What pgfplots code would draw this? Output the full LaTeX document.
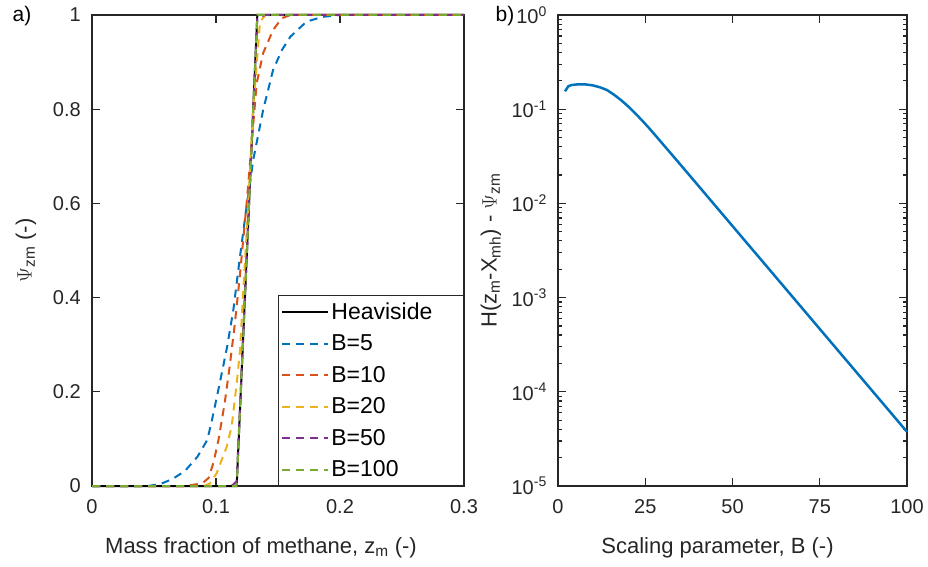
\documentclass[border=0pt]{standalone}
\usepackage{fontspec}
\setmainfont{Liberation Sans}
\usepackage{pgfplots}
\pgfplotsset{compat=1.18}
\definecolor{mblue}{rgb}{0,0.447,0.741}
\definecolor{morange}{rgb}{0.85,0.325,0.098}
\definecolor{myellow}{rgb}{0.929,0.694,0.125}
\definecolor{mpurple}{rgb}{0.494,0.184,0.556}
\definecolor{mgreen}{rgb}{0.466,0.674,0.188}
\definecolor{axgray}{rgb}{0.15,0.15,0.15}
\pgfplotsset{
  mystyle/.style={
    scale only axis,
    height=471pt,
    axis line style={line width=1.4pt, axgray},
    every tick/.style={line width=1.2pt, axgray},
    tick align=inside,
    major tick length=8pt,
    minor tick length=4pt,
    /pgf/number format/assume math mode=true,
    tick label style={font=\fontsize{20}{24}\selectfont, text=axgray},
    label style={font=\fontsize{22}{26}\selectfont, text=axgray},
    xticklabel style={anchor=base, yshift=-27pt, inner sep=0pt},
    yticklabel style={anchor=east, xshift=-11pt, inner sep=0pt},
    xlabel style={at={(axis description cs:0.5,0)}, anchor=center, yshift=-62pt},
    clip=false,
  }
}
\begin{document}
\begin{tikzpicture}[x=1pt,y=1pt]
\useasboundingbox (0,0) rectangle (928,566);
\begin{axis}[mystyle,
  at={(92pt,80pt)}, anchor=south west, width=372pt,
  xmin=0, xmax=0.3, ymin=0, ymax=1,
  xtick={0,0.1,0.2,0.3}, xticklabels={0,0.1,0.2,0.3},
  ytick={0,0.2,0.4,0.6,0.8,1}, yticklabels={0,0.2,0.4,0.6,0.8,1},
  xlabel={Mass fraction of methane, z\textsubscript{m} (-)},
  xlabel style={xshift=-17pt},
  ylabel={$\Psi$\textsubscript{zm} (-)},
  ylabel style={at={(axis description cs:0,0.5)}, anchor=center, yshift=66pt},
  legend style={at={(1,0)}, anchor=south east, draw=axgray, line width=1.2pt,
    font=\fontsize{23}{27}\selectfont, fill=white, inner xsep=3pt, inner ysep=5pt,
    row sep=10pt},
  legend cell align=left,
  legend image code/.code={\draw[#1] (0pt,0pt) -- (46pt,0pt);},
]
\addplot[black, line width=2pt] coordinates {(0,0) (0.11667,0) (0.13333,1) (0.3,1)};
\addlegendentry{Heaviside\rule{26pt}{0pt}}
\addplot[mblue, line width=2pt, dash pattern=on 8pt off 6pt] coordinates {
(0,0) (0.045,0) (0.055,0.004) (0.065,0.015) (0.075,0.032) (0.085,0.062) (0.093,0.098)
(0.0965,0.137) (0.103,0.218) (0.109,0.296) (0.114,0.374) (0.119,0.48) (0.125,0.6)
(0.130,0.692) (0.138,0.798) (0.146,0.883) (0.153,0.925) (0.160,0.954) (0.173,0.986)
(0.186,0.996) (0.2,1) (0.3,1)};
\addlegendentry{B=5}
\addplot[morange, line width=2pt, dash pattern=on 8pt off 6pt] coordinates {
(0,0) (0.075,0) (0.085,0.004) (0.09,0.008) (0.094,0.017) (0.098,0.05) (0.102,0.098)
(0.107,0.176) (0.111,0.253) (0.115,0.34) (0.119,0.44) (0.1247,0.6) (0.1328,0.855)
(0.138,0.919) (0.146,0.968) (0.153,0.993) (0.16,1) (0.3,1)};
\addlegendentry{B=10}
\addplot[myellow, line width=2pt, dash pattern=on 8pt off 6pt] coordinates {
(0,0) (0.09,0) (0.095,0.005) (0.1005,0.027) (0.1086,0.083) (0.1126,0.126) (0.1167,0.218)
(0.1194,0.289) (0.122,0.416) (0.125,0.55) (0.13,0.8) (0.1355,0.986) (0.14,1) (0.3,1)};
\addlegendentry{B=20}
\addplot[mpurple, line width=2pt, dash pattern=on 8pt off 6pt] coordinates {
(0,0) (0.1125,0) (0.1167,0.01) (0.1333,0.995) (0.14,1) (0.3,1)};
\addlegendentry{B=50}
\addplot[mgreen, line width=2pt, dash pattern=on 8pt off 6pt] coordinates {
(0,0) (0.11667,0) (0.13333,1) (0.3,1)};
\addlegendentry{B=100}
\end{axis}
\begin{axis}[mystyle,
  at={(558pt,80pt)}, anchor=south west, width=349pt,
  ymode=log,
  xmin=0, xmax=100, ymin=1e-5, ymax=1,
  xtick={0,25,50,75,100}, xticklabels={0,25,50,75,100},
  ytick={1e-5,1e-4,1e-3,1e-2,1e-1,1},
  yticklabels={10\textsuperscript{-5},10\textsuperscript{-4},10\textsuperscript{-3},10\textsuperscript{-2},10\textsuperscript{-1},10\textsuperscript{0}},
  xlabel={Scaling parameter, B (-)},
  xlabel style={xshift=-15pt},
  ylabel={H(z\textsubscript{m}-X\textsubscript{mh}) - $\Psi$\textsubscript{zm}},
  ylabel style={at={(axis description cs:0,0.5)}, anchor=center, yshift=67pt},
]
\addplot[mblue, line width=2.5pt] coordinates {
(2,0.155) (3,0.176) (4,0.181) (6,0.184) (8,0.183) (10,0.179) (12,0.171) (14,0.160)
(16,0.143) (18,0.1255) (20,0.108) (22,0.0915) (24,0.0766) (26,0.0636) (28,0.0522)
(30,0.0428) (35,0.0260) (40,0.01574) (50,0.00575) (60,0.002104) (70,0.000769)
(80,0.000281) (90,0.0001028) (100,0.0000376)};
\end{axis}
\node[font=\fontsize{21}{25}\selectfont] at (22,550) {a)};
\node[font=\fontsize{21}{25}\selectfont] at (505,550) {b)};
\end{tikzpicture}
\end{document}
